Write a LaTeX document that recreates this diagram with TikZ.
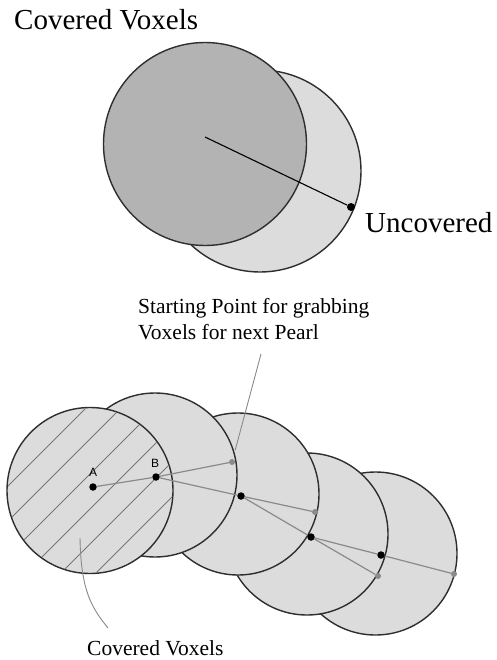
\documentclass[tikz,border=0pt]{standalone}
\usepackage{fontspec}
\setmainfont{Liberation Serif}
\setsansfont{Liberation Sans}
\usepackage{xcolor}
\definecolor{pearlfill}{HTML}{DCDCDC}
\definecolor{coveredfill}{HTML}{B3B3B3}
\definecolor{rimgray}{HTML}{2E2E2E}
\definecolor{linkgray}{HTML}{8A8A8A}
\definecolor{hatchgray}{HTML}{767676}

\begin{document}
\begin{tikzpicture}[x=1pt,y=-1pt,
    pearl/.style={circle,draw=rimgray,line width=1.4pt,fill=pearlfill,inner sep=0pt},
    bigtxt/.style={font=\fontsize{29}{33}\selectfont,inner sep=0pt,anchor=base west},
    txt/.style={font=\fontsize{21.5}{26}\selectfont,inner sep=0pt,anchor=base west},
    ptlabel/.style={font=\sffamily\fontsize{12}{12}\selectfont,inner sep=0pt},
    ctr/.style={circle,fill=black,inner sep=0pt,minimum size=7.5pt},
    seed/.style={circle,fill=linkgray,inner sep=0pt,minimum size=6pt},
    link/.style={draw=linkgray,line width=1.2pt},
    hatch/.style={draw=hatchgray,line width=0.9pt}]
    \useasboundingbox (0,0) rectangle (497,660);
    % top: one pearl and what it leaves uncovered
    \node[pearl,minimum size=202pt] (shell) at (260,171) {};
    \node[pearl,fill=coveredfill,minimum size=203pt] (core) at (205,144) {};
    \coordinate (ray) at (205,137);
    \node[ctr,minimum size=8pt] (uncov) at (351,207) {};
    \draw[black,line width=1.1pt] (ray) -- (uncov);
    \node[bigtxt] (covtop) at (14,30) {Covered Voxels};
    \node[bigtxt] (uncovtxt) at (365,233) {Uncovered};
    % bottom: chain of pearls, drawn back to front
    \node[pearl,minimum size=163pt] (p5) at (375.5,553.5) {};
    \node[pearl,minimum size=162pt] (p4) at (307,534) {};
    \node[pearl,minimum size=162pt] (p3) at (238,494) {};
    \node[pearl,minimum size=164pt] (p2) at (155,475) {};
    \node[pearl,minimum size=166pt] (p1) at (90,490.5) {};
    \begin{scope}
      \clip (p1.center) circle[radius=82.3pt];
      \foreach \c in {494,529,...,670}
        \draw[hatch] ({\c-400},400) -- ({\c-590},590);
    \end{scope}
    \node[ctr] (A) at (93,487) {};
    \node[ctr] (B) at (156,477) {};
    \node[ctr] (c3) at (241,496) {};
    \node[ctr] (c4) at (311,537) {};
    \node[ctr] (c5) at (381,555) {};
    \node[seed] (g1) at (232,462) {};
    \node[seed] (g2) at (315,512) {};
    \node[seed] (g3) at (378,576) {};
    \node[seed] (g4) at (454,574) {};
    \draw[link] (A) -- (B);
    \draw[link] (B) -- (g1);
    \draw[link] (B) -- (c3);
    \draw[link] (c3) -- (g2);
    \draw[link] (c3) -- (c4);
    \draw[link] (c4) -- (g3);
    \draw[link] (c4) -- (c5);
    \draw[link] (c5) -- (g4);
    \node[ptlabel] (labA) at (93,472) {A};
    \node[ptlabel] (labB) at (155,463) {B};
    \node[txt] (start1) at (138,313) {Starting Point for grabbing};
    \node[txt] (start2) at (138,339) {Voxels for next Pearl};
    \node[txt] (covbot) at (87,655) {Covered Voxels};
    \coordinate (lead1) at (261,354);
    \draw[link,line width=0.9pt,shorten >=9pt] (lead1) -- (g1);
    \coordinate (lead2) at (80,538);
    \coordinate (lead2end) at (108,628);
    \draw[link,line width=0.9pt] (lead2) .. controls (81,592) and (92,608) .. (lead2end);
\end{tikzpicture}
\end{document}
